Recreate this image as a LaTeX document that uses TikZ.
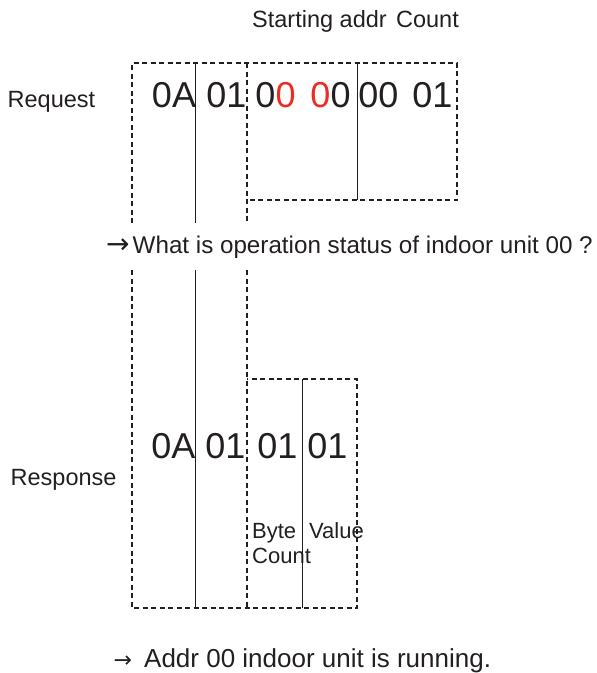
\documentclass[tikz,border=0pt]{standalone}
\usepackage{fontspec}
\setmainfont{Liberation Sans}
\newfontfamily\arrowfont{DejaVu Sans}
\definecolor{ink}{HTML}{231F20}
\definecolor{hot}{HTML}{EE2A24}
\begin{document}
\begin{tikzpicture}[x=1pt,y=-1pt,
  dashln/.style={draw=ink,line width=1.1pt,dash pattern=on 5pt off 3.5pt},
  solidln/.style={draw=ink,line width=1pt},
  lbl/.style={inner sep=0pt,text=ink,font=\fontsize{23.5}{26}\selectfont},
  qtext/.style={inner sep=0pt,text=ink,font=\fontsize{24.2}{28}\selectfont},
  atext/.style={inner sep=0pt,text=ink,font=\fontsize{26}{30}\selectfont},
  arr/.style={inner sep=0pt,text=ink,anchor=base west},
  small/.style={inner sep=0pt,text=ink,font=\fontsize{22}{25}\selectfont},
  byte/.style={inner sep=0pt,anchor=base,text=ink,font=\fontsize{36}{40}\selectfont}]
\useasboundingbox (0,0) rectangle (597,673);
% coordinates
\coordinate (tl) at (132,63);
\coordinate (tr) at (457,63);
\coordinate (ga1) at (132,223); \coordinate (gb1) at (132,270);
\coordinate (bl) at (132,608);
\coordinate (s1t) at (195,63); \coordinate (s1a) at (195,223); \coordinate (s1b) at (195,270); \coordinate (s1e) at (195,608);
\coordinate (d2t) at (247,63); \coordinate (d2a) at (247,223); \coordinate (d2b) at (247,270); \coordinate (d2e) at (247,608);
\coordinate (rqb) at (247,200);
\coordinate (m3t) at (357,63); \coordinate (m3b) at (357,200);
\coordinate (rb) at (457,200);
\coordinate (rst) at (247,379); \coordinate (rsr) at (357,379); \coordinate (rse) at (357,608);
\coordinate (s4t) at (302,379); \coordinate (s4e) at (302,608);
% frames
\draw[dashln] (ga1) -- (tl) -- (tr) -- (rb) -- (rqb);
\draw[dashln] (gb1) -- (bl) -- (rse) -- (rsr) -- (rst);
\draw[dashln] (d2t) -- (d2a);
\draw[dashln] (d2b) -- (d2e);
\draw[solidln] (s1t) -- (s1a);
\draw[solidln] (s1b) -- (s1e);
\draw[solidln] (m3t) -- (m3b);
\draw[solidln] (s4t) -- (s4e);
% labels
\node[lbl,anchor=base west] (sa) at (252,27) {Starting addr};
\node[lbl,anchor=base east] (cnt) at (459,27) {Count};
\node[lbl,anchor=base west] (req) at (7.5,107) {Request};
\node[lbl,anchor=base west] (resp) at (10.5,485) {Response};
% request bytes
\node[byte] (q1) at (174,107) {0A};
\node[byte] (q2) at (226.5,107) {01};
\node[byte] (q3) at (275.5,107) {0\textcolor{hot}{0}};
\node[byte] (q4) at (330.5,107) {\textcolor{hot}{0}0};
\node[byte] (q5) at (378.5,107) {00};
\node[byte] (q6) at (432.5,107) {01};
% question
\node[arr,font=\arrowfont\fontsize{28}{30}\selectfont] (qa) at (106,253) {→};
\node[qtext,anchor=base west] (qq) at (132.5,253) {What is operation status of indoor unit 00 ?};
% response bytes
\node[byte] (r1) at (173.5,458) {0A};
\node[byte] (r2) at (225.5,458) {01};
\node[byte] (r3) at (277.5,458) {01};
\node[byte] (r4) at (327.5,458) {01};
\node[small,anchor=base west] (bc1) at (252,538) {Byte};
\node[small,anchor=base west] (bc2) at (252,563) {Count};
\node[small,anchor=base west] (val) at (309,538) {Value};
% answer
\node[arr,font=\arrowfont\fontsize{22}{26}\selectfont] (aa) at (113.5,667) {→};
\node[atext,anchor=base west] (ans) at (144,667) {Addr 00 indoor unit is running.};
\end{tikzpicture}
\end{document}
